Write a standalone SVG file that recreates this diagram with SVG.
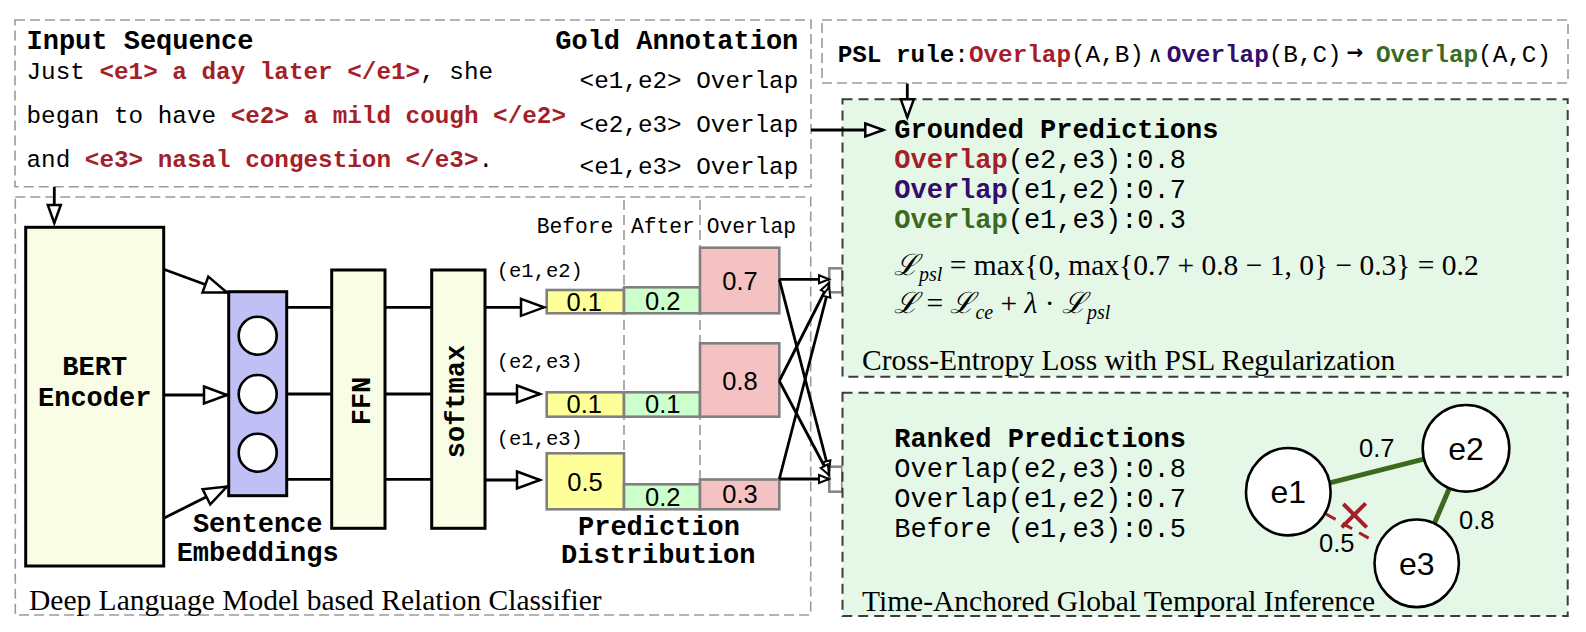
<svg xmlns="http://www.w3.org/2000/svg" width="1586" height="632" viewBox="0 0 1586 632">
<defs>
<style>
.mono{font-family:"Liberation Mono","Courier New","DejaVu Sans Mono",monospace;}
.b{font-weight:bold;}
.t27{font-size:27px;}
.t24{font-size:24.3px;}
.red{fill:#a41f29;}
.pur{fill:#330c6c;}
.grn{fill:#3b6a1f;}
.serif{font-family:"Liberation Serif","Times New Roman","DejaVu Serif",serif;}
.sans{font-family:"Liberation Sans",Arial,sans-serif;}
.cap{font-size:29.5px;}
.lbox{fill:none;stroke:#9a9a9a;stroke-width:1.6;stroke-dasharray:10 5;}
.gbox{fill:#e5f8e8;stroke:#3c3c3c;stroke-width:2;stroke-dasharray:10 6;}
.blk{fill:#fafde6;stroke:#000;stroke-width:3;}
.ln{stroke:#000;stroke-width:2.8;fill:none;}
.ah{marker-end:url(#ah);}
.am{marker-end:url(#am);}
.as{marker-end:url(#as);}
.bar{stroke:#808080;stroke-width:2.6;}
.y{fill:#ffff99;}.g{fill:#ccffcc;}.p{fill:#f4c2c2;}
.sep{stroke:#9a9a9a;stroke-width:1.6;stroke-dasharray:10 5;fill:none;}
.num{font-family:"Liberation Sans",Arial,sans-serif;font-size:25.5px;text-anchor:middle;}
.node{fill:#fff;stroke:#000;stroke-width:2.6;}
.mini{fill:#fff;stroke:#888;stroke-width:2.6;}
.fm{font-size:29.5px;}
.sub{font-size:20px;font-style:italic;}
.it{font-style:italic;}
</style>
<marker id="ah" markerUnits="userSpaceOnUse" markerWidth="28" markerHeight="22" refX="24" refY="9.5" orient="auto" overflow="visible">
<path d="M1,1 L24,9.5 L1,18 Z" fill="#fff" stroke="#000" stroke-width="2.5"/>
</marker>
<marker id="am" markerUnits="userSpaceOnUse" markerWidth="24" markerHeight="18" refX="19" refY="7.5" orient="auto" overflow="visible">
<path d="M1,1 L19,7.5 L1,14 Z" fill="#fff" stroke="#000" stroke-width="2.5"/>
</marker>
<marker id="as" markerUnits="userSpaceOnUse" markerWidth="14" markerHeight="12" refX="11" refY="4.5" orient="auto" overflow="visible">
<path d="M1,0.5 L11,4.5 L1,8.5 Z" fill="#fff" stroke="#000" stroke-width="2"/>
</marker>
</defs>
<rect x="0" y="0" width="1586" height="632" fill="#fff"/>

<g id="input-box">
<rect class="lbox" x="15" y="20" width="796" height="166.7"/>
<text class="mono b t27" x="26.5" y="48.5">Input Sequence</text>
<text class="mono t24" x="26.5" y="79">Just <tspan class="b red">&lt;e1&gt; a day later &lt;/e1&gt;</tspan>, she</text>
<text class="mono t24" x="26.5" y="122.5">began to have <tspan class="b red">&lt;e2&gt; a mild cough &lt;/e2&gt;</tspan></text>
<text class="mono t24" x="26.5" y="166.5">and <tspan class="b red">&lt;e3&gt; nasal congestion &lt;/e3&gt;</tspan>.</text>
<text class="mono b t27" x="798.3" y="48.5" text-anchor="end">Gold Annotation</text>
<text class="mono t24" x="798.3" y="88.3" text-anchor="end">&lt;e1,e2&gt; Overlap</text>
<text class="mono t24" x="798.3" y="131.7" text-anchor="end">&lt;e2,e3&gt; Overlap</text>
<text class="mono t24" x="798.3" y="174.3" text-anchor="end">&lt;e1,e3&gt; Overlap</text>
</g>

<g id="psl-rule">
<rect class="lbox" x="822" y="20" width="746" height="63"/>
<text class="mono t24" x="837.7" y="61.7"><tspan class="b">PSL rule</tspan>:<tspan class="b red">Overlap</tspan>(A,B)</text>
<text class="mono" x="1155" y="61.7" font-size="22" text-anchor="middle">∧</text>
<text class="mono t24" x="1166.7" y="61.7"><tspan class="b pur">Overlap</tspan>(B,C)</text>
<text x="1355" y="59" font-family="DejaVu Sans,sans-serif" font-size="20" font-weight="bold" text-anchor="middle">→</text>
<text class="mono t24" x="1376" y="61.7"><tspan class="b grn">Overlap</tspan>(A,C)</text>
</g>

<g id="classifier-frame">
<rect class="lbox" x="15.3" y="197" width="795.4" height="418"/>
<text class="serif cap" x="29" y="610">Deep Language Model based Relation Classifier</text>
</g>

<g id="bert-encoder">
<rect class="blk" x="25.7" y="227.3" width="138" height="338.7"/>
<text class="mono b t27" x="94.7" y="375" text-anchor="middle">BERT</text>
<text class="mono b t27" x="94.7" y="406" text-anchor="middle">Encoder</text>
</g>

<g id="sentence-embeddings">
<rect x="228.7" y="291.7" width="58" height="204" fill="#c0c0f7" stroke="#000" stroke-width="3"/>
<circle class="node" cx="257.7" cy="335.7" r="19"/>
<circle class="node" cx="257.7" cy="394" r="19"/>
<circle class="node" cx="257.7" cy="452.7" r="19"/>
<text class="mono b t27" x="257.7" y="531.7" text-anchor="middle">Sentence</text>
<text class="mono b t27" x="257.7" y="561" text-anchor="middle">Embeddings</text>
</g>

<g id="ffn">
<rect class="blk" x="331.7" y="270" width="53.3" height="258.3"/>
<text class="mono b t27" transform="translate(370,401) rotate(-90)" text-anchor="middle">FFN</text>
</g>

<g id="softmax">
<rect class="blk" x="431.7" y="270" width="53.3" height="258.3"/>
<text class="mono b t27" transform="translate(464,401.5) rotate(-90)" text-anchor="middle">softmax</text>
</g>

<g id="prediction-distribution">
<path class="sep" d="M624,200 V512 M700,200 V512"/>
<text class="mono" font-size="21.3" x="536.7" y="233">Before</text>
<text class="mono" font-size="21.3" x="631" y="233">After</text>
<text class="mono" font-size="21.3" x="706.7" y="233">Overlap</text>
<text class="mono" font-size="20.5" x="496.7" y="277">(e1,e2)</text>
<text class="mono" font-size="20.5" x="496.7" y="368">(e2,e3)</text>
<text class="mono" font-size="20.5" x="496.7" y="445">(e1,e3)</text>
<rect class="bar y" x="546.7" y="290" width="77.3" height="23.3"/>
<rect class="bar g" x="624" y="287.3" width="76" height="26"/>
<rect class="bar p" x="700" y="247.7" width="79.3" height="65.6"/>
<text class="num" x="584.3" y="310.5">0.1</text>
<text class="num" x="662.7" y="310">0.2</text>
<text class="num" x="740" y="290">0.7</text>
<rect class="bar y" x="546.7" y="392.3" width="77.3" height="24.4"/>
<rect class="bar g" x="624" y="392.3" width="76" height="24.4"/>
<rect class="bar p" x="700" y="343.3" width="79.3" height="73.4"/>
<text class="num" x="584.3" y="413">0.1</text>
<text class="num" x="662.7" y="413">0.1</text>
<text class="num" x="740" y="390">0.8</text>
<rect class="bar y" x="546.7" y="453.3" width="77.3" height="56"/>
<rect class="bar g" x="624" y="484.3" width="76" height="25"/>
<rect class="bar p" x="700" y="479.5" width="79.3" height="29.8"/>
<text class="num" x="585" y="490.5">0.5</text>
<text class="num" x="662.7" y="505.5">0.2</text>
<text class="num" x="740" y="503">0.3</text>
<text class="mono b t27" x="659" y="535" text-anchor="middle">Prediction</text>
<text class="mono b t27" x="658.3" y="563" text-anchor="middle">Distribution</text>
</g>

<g id="merge-top"><rect class="mini" x="829.3" y="268.3" width="13" height="24"/></g>
<g id="merge-bottom"><rect class="mini" x="829.3" y="466.7" width="13" height="25"/></g>

<g id="grounded-predictions">
<rect class="gbox" x="842.5" y="99.3" width="725.2" height="277.4"/>
<text class="mono b t27" x="894.3" y="138.3">Grounded Predictions</text>
<text class="mono t27" x="894.3" y="168.3"><tspan class="b red">Overlap</tspan>(e2,e3):0.8</text>
<text class="mono t27" x="894.3" y="198.3"><tspan class="b pur">Overlap</tspan>(e1,e2):0.7</text>
<text class="mono t27" x="894.3" y="228.3"><tspan class="b grn">Overlap</tspan>(e1,e3):0.3</text>
<text class="serif fm" x="894" y="275"><tspan class="it">ℒ</tspan><tspan class="sub" dy="6">psl</tspan><tspan dy="-6"> = max{0, max{0.7 + 0.8 − 1, 0} − 0.3} = 0.2</tspan></text>
<text class="serif fm" x="894" y="313"><tspan class="it">ℒ</tspan> = <tspan class="it">ℒ</tspan><tspan class="sub" dy="6">ce</tspan><tspan dy="-6"> + </tspan><tspan class="it">λ</tspan> · <tspan class="it">ℒ</tspan><tspan class="sub" dy="6">psl</tspan></text>
<text class="serif cap" x="862" y="370">Cross-Entropy Loss with PSL Regularization</text>
</g>

<g id="temporal-inference">
<rect class="gbox" x="842.5" y="392.7" width="725.2" height="223.3"/>
<text class="mono b t27" x="894.3" y="446.7">Ranked Predictions</text>
<text class="mono t27" x="894.3" y="477">Overlap(e2,e3):0.8</text>
<text class="mono t27" x="894.3" y="506.5">Overlap(e1,e2):0.7</text>
<text class="mono t27" x="894.3" y="536.5">Before (e1,e3):0.5</text>
<text class="serif cap" x="862" y="610.7">Time-Anchored Global Temporal Inference</text>
</g>

<g id="connectors">
<path class="ln am" d="M54.3,187 V223"/>
<path class="ln ah" d="M163.7,269.3 L227,292.5"/>
<path class="ln ah" d="M163.7,395 H227"/>
<path class="ln ah" d="M163.7,518.3 L227,486.5"/>
<path class="ln" d="M286.7,307.3 H331.7 M385,307.3 H431.7 M286.7,394 H331.7 M385,394 H431.7 M286.7,479.3 H331.7 M385,479.3 H431.7"/>
<path class="ln ah" d="M485,307.3 H544"/>
<path class="ln ah" d="M485,394 H540"/>
<path class="ln ah" d="M485,480 H540"/>
<path class="ln as" d="M779.3,279.3 L829,279.3"/>
<path class="ln as" d="M779.3,279.3 L829,471"/>
<path class="ln as" d="M779.3,381 L829,283"/>
<path class="ln as" d="M779.3,381 L829,475"/>
<path class="ln as" d="M779.3,479 L829,479"/>
<path class="ln as" d="M779.3,479 L829,287"/>
<path class="ln am" d="M811,130 H883.3"/>
<path class="ln am" d="M907.3,83.5 V117.3"/>
<path d="M1330.7,482.7 L1426.7,458.3" stroke="#3b6a1f" stroke-width="5" fill="none"/>
<path d="M1450,486.7 L1433.3,526" stroke="#3b6a1f" stroke-width="5" fill="none"/>
<path d="M1326,514 L1375,541.7" stroke="#a41f29" stroke-width="3" stroke-dasharray="11 8" fill="none"/>
<path d="M1341.7,527.3 L1365.7,503.3 M1343.3,504 L1366.7,527.3" stroke="#a41f29" stroke-width="4" fill="none"/>
<text class="num" font-size="27.5" x="1376.7" y="457">0.7</text>
<text class="num" font-size="27.5" x="1476.7" y="528.5">0.8</text>
<text class="num" font-size="27.5" x="1336.7" y="552">0.5</text>
</g>

<g id="node-e1">
<ellipse class="node" cx="1288.3" cy="491.7" rx="42.3" ry="43.7"/>
<text class="sans" font-size="32" x="1288.3" y="503" text-anchor="middle">e1</text>
</g>
<g id="node-e2">
<ellipse class="node" cx="1466" cy="448.3" rx="43.3" ry="43.3"/>
<text class="sans" font-size="32" x="1466" y="460" text-anchor="middle">e2</text>
</g>
<g id="node-e3">
<ellipse class="node" cx="1416.7" cy="563.3" rx="42.2" ry="43.8"/>
<text class="sans" font-size="32" x="1416.7" y="575" text-anchor="middle">e3</text>
</g>
</svg>
